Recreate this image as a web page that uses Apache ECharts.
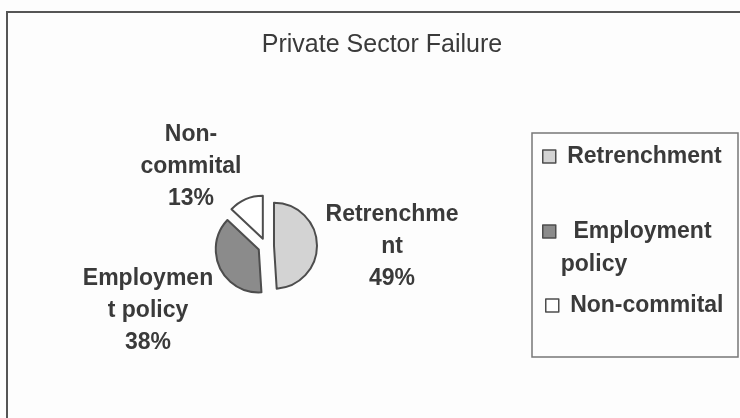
<!DOCTYPE html>
<html>
<head>
<meta charset="utf-8">
<script src="https://cdn.jsdelivr.net/npm/echarts@6/dist/echarts.min.js"></script>
<style>
  html, body { margin: 0; padding: 0; background: #fdfdfd; }
  #chart { width: 740px; height: 418px; }
</style>
</head>
<body>
<div id="chart"></div>
<script>
// data
const categories = ['Retrenchment', 'Employment policy', 'Non-commital'];
const values = [49, 38, 13];
// how the labels wrap in the original
const labelNames = ['Retrenchme\nnt', 'Employmen\nt policy', 'Non-\ncommital'];
const legendNames = [' Retrenchment', '\n  Employment\npolicy', ' Non-commital'];

const fills = ['#d3d3d3', '#8b8b8b', '#ffffff'];
const edge = '#4d4d4d';
const txt = '#3a3a3a';
const font = 'Liberation Sans, Arial, sans-serif';

// label block centres (px), placed by hand like the excel chart
const labelPos = [[392, 247], [148, 311], [191, 167]];
// legend rows: left, top
const legendPos = [[542, 140], [542, 182], [545, 289]];

const total = values.reduce((a, b) => a + b, 0);

const chart = echarts.init(document.getElementById('chart'));

const legends = categories.map((name, i) => ({
  data: [name],
  orient: 'vertical',
  left: legendPos[i][0],
  top: legendPos[i][1],
  icon: 'rect',
  itemWidth: 13,
  itemHeight: 13,
  padding: 0,
  selectedMode: false,
  itemStyle: { borderWidth: 1.5 },
  formatter: () => legendNames[i],
  textStyle: { fontFamily: font, fontSize: 23, fontWeight: 'bold', color: txt, lineHeight: 33 }
}));

// data labels (the excel chart has them moved by hand)
const labels = categories.map((name, i) => ({
  type: 'text',
  x: labelPos[i][0],
  y: labelPos[i][1],
  style: {
    text: labelNames[i] + '\n' + Math.round(values[i] / total * 100) + '%',
    align: 'center',
    verticalAlign: 'middle',
    fontFamily: font,
    fontSize: 23,
    fontWeight: 'bold',
    lineHeight: 32,
    fill: txt
  }
}));

chart.setOption({
  backgroundColor: '#fdfdfd',
  animation: false,
  title: {
    text: 'Private Sector Failure',
    left: 377,
    top: 28,
    textAlign: 'center',
    textStyle: { fontFamily: font, fontSize: 25, fontWeight: 'normal', color: txt }
  },
  legend: legends,
  graphic: [
    // outer chart frame (right and bottom fall off the scan)
    { type: 'polyline', shape: { points: [[7, 418], [7, 12], [740, 12]] },
      style: { stroke: '#555', lineWidth: 2, fill: null } },
    // legend box
    { type: 'rect', shape: { x: 532, y: 133, width: 206, height: 224 },
      style: { stroke: '#777', lineWidth: 1.5, fill: null } }
  ].concat(labels),
  series: [{
    type: 'pie',
    center: [266, 246],
    radius: 43,
    startAngle: 90,
    clockwise: true,
    selectedMode: 'multiple',
    selectedOffset: 8,
    itemStyle: { borderColor: edge, borderWidth: 2 },
    emphasis: { disabled: true },
    label: { show: false },
    labelLine: { show: false },
    data: categories.map((name, i) => ({
      name: name,
      value: values[i],
      selected: true,
      itemStyle: { color: fills[i] },
      select: { itemStyle: { color: fills[i], borderColor: edge, borderWidth: 2 } }
    }))
  }]
});
</script>
</body>
</html>
